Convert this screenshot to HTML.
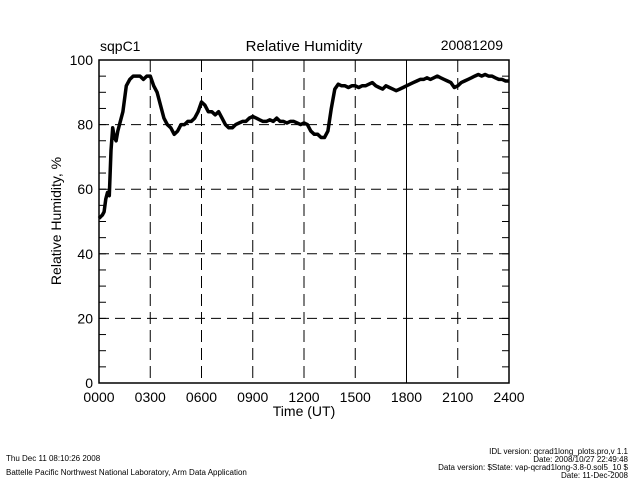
<!DOCTYPE html>
<html><head><meta charset="utf-8"><style>
body{margin:0;background:#fff;width:640px;height:480px;overflow:hidden}
svg text{font-family:"Liberation Sans",sans-serif;fill:#000}
</style></head><body>
<svg width="640" height="480" xmlns="http://www.w3.org/2000/svg">
<g id="axes"></g>
<g id="series"></g>
<text x="100" y="51" font-size="14">sqpC1</text>
<text x="304" y="51" font-size="15" text-anchor="middle">Relative Humidity</text>
<text x="503" y="50" font-size="14" text-anchor="end">20081209</text>
<text x="304" y="416" font-size="14" text-anchor="middle">Time (UT)</text>
<text transform="translate(61,221) rotate(-90)" font-size="14" text-anchor="middle">Relative Humidity, %</text>
<text x="6" y="461" font-size="8">Thu Dec 11 08:10:26 2008</text>
<text x="6" y="475" font-size="8">Battelle Pacific Northwest National Laboratory, Arm Data Application</text>
<text x="628" y="454" font-size="8" text-anchor="end">IDL version: qcrad1long_plots.pro,v 1.1</text>
<text x="628" y="462" font-size="8" text-anchor="end">Date: 2008/10/27 22:49:48</text>
<text x="628" y="470" font-size="8" text-anchor="end">Data version: $State: vap-qcrad1long-3.8-0.sol5_10 $</text>
<text x="628" y="478" font-size="8" text-anchor="end">Date: 11-Dec-2008</text>
</svg>
<script>
const xTicks=[0,3,6,9,12,15,18,21,24];
const xTickLabels=["0000","0300","0600","0900","1200","1500","1800","2100","2400"];
const yTicks=[0,20,40,60,80,100];
const times=[0,0.1,0.2,0.3,0.4,0.5,0.6,0.7,0.8,0.9,1.0,1.1,1.2,1.4,1.6,1.8,2.0,2.2,2.4,2.6,2.8,3.0,3.2,3.4,3.6,3.8,4.0,4.2,4.4,4.6,4.8,5.0,5.2,5.4,5.6,5.8,6.0,6.2,6.4,6.6,6.8,7.0,7.2,7.4,7.6,7.8,8.0,8.2,8.4,8.6,8.8,9.0,9.2,9.4,9.6,9.8,10.0,10.2,10.4,10.6,10.8,11.0,11.2,11.4,11.6,11.8,12.0,12.2,12.4,12.6,12.8,13.0,13.2,13.4,13.6,13.8,14.0,14.2,14.4,14.6,14.8,15.0,15.2,15.4,15.6,15.8,16.0,16.2,16.4,16.6,16.8,17.0,17.2,17.4,17.6,17.8,18.0,18.2,18.4,18.6,18.8,19.0,19.2,19.4,19.6,19.8,20.0,20.2,20.4,20.6,20.8,21.0,21.2,21.4,21.6,21.8,22.0,22.2,22.4,22.6,22.8,23.0,23.2,23.4,23.6,23.8,24.0];
const rh=[51,51.5,52,53,57,59,58,72,79,76,75,78,80,84,92,94,95,95,95,94,95,95,92,90,86,82,80,79,77,78,80,80,81,81,82,84,87,86,84,84,83,84,82,80,79,79,80,80.5,81,81,82,82.5,82,81.5,81,81,81.5,81,82,81,81,80.5,81,81,80.5,80,80.5,80,78,77,77,76,76,78,85,91,92.5,92,92,91.5,92,92,91.5,92,92,92.5,93,92,91.5,91,92,91.5,91,90.5,91,91.5,92,92.5,93,93.5,94,94,94.5,94,94.5,95,94.5,94,93.5,93,91.5,92,93,93.5,94,94.5,95,95.5,95,95.5,95,95,94.5,94,94,93.5,93.5];
const X0=99,X1=509,Y0=383,Y1=60;
const sx=h=>X0+(X1-X0)*h/24, sy=v=>Y0-(Y0-Y1)*v/100;
const NS="http://www.w3.org/2000/svg";
const ax=document.getElementById('axes'), se=document.getElementById('series');
function mk(t,a,p){const e=document.createElementNS(NS,t);for(const k in a)e.setAttribute(k,a[k]);p.appendChild(e);return e;}
yTicks.forEach(v=>{if(v>0&&v<100){const l=mk('line',{x1:X0,x2:X1,y1:sy(v),y2:sy(v),stroke:'#000','stroke-width':1,'stroke-dasharray':'10,6'},ax);

}
const t=mk('text',{x:X0-6,y:sy(v)+5,'font-size':14,'text-anchor':'end'},ax);t.textContent=v;

});
for(let v=5;v<100;v+=5){mk('line',{x1:X0,x2:X0+7,y1:sy(v),y2:sy(v),stroke:'#000'},ax);mk('line',{x1:X1-7,x2:X1,y1:sy(v),y2:sy(v),stroke:'#000'},ax);}
xTicks.forEach((h,i)=>{if(h>0&&h<24){const l=mk('line',{x1:sx(h),x2:sx(h),y1:Y1,y2:Y0,stroke:'#000','stroke-width':1,'stroke-dasharray':h===18?'none':'12,6'},ax);

}
const t=mk('text',{x:sx(h),y:Y0+19,'font-size':14,'text-anchor':'middle'},ax);t.textContent=xTickLabels[i];

});
const box=mk('rect',{x:X0,y:Y1,width:X1-X0,height:Y0-Y1,fill:'none',stroke:'#000','stroke-width':1.5},ax);


const pts=times.map((h,i)=>sx(h).toFixed(1)+','+sy(rh[i]).toFixed(1)).join(' ');
const pl=mk('polyline',{points:pts,fill:'none',stroke:'#000','stroke-width':3.5,'stroke-linejoin':'round'},se);


</script>
</body></html>
